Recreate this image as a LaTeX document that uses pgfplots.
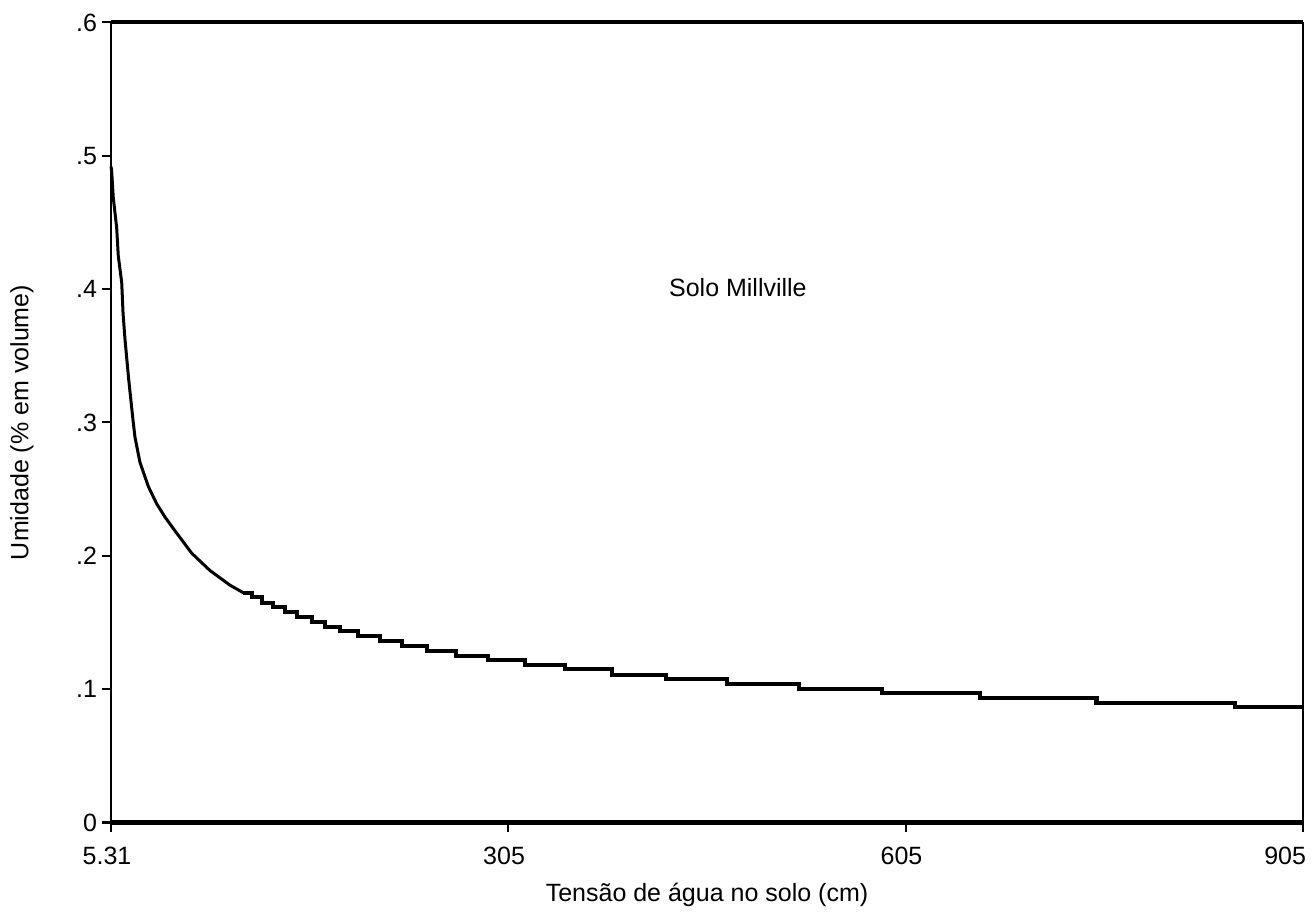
\documentclass[border=0pt]{standalone}
\usepackage{pgfplots}
\pgfplotsset{compat=1.18}
\usepackage{fontspec}
\setmainfont{Liberation Sans}
\begin{document}
\begin{tikzpicture}
\begin{axis}[
  scale only axis,
  width=596pt, height=400pt,
  xmin=5.31, xmax=905, ymin=0, ymax=0.6,
  separate axis lines,
  x axis line style={line width=2pt},
  y axis line style={line width=1.1pt},
  xtick={5.31,305,605,905},
  xticklabels={5.31,305,605,\makebox[7pt][r]{905}},
  ytick={0,0.1,0.2,0.3,0.4,0.5,0.6},
  yticklabels={0,.1,.2,.3,.4,.5,.6},
  tick align=outside,
  major tick length=4.5pt,
  tick style={line width=1pt, black},
  xtick pos=bottom, ytick pos=left,
  ticklabel style={font=\fontsize{12.5}{14}\selectfont},
  xticklabel style={yshift=-4pt, xshift=-2pt},
  yticklabel style={xshift=1pt},
  xlabel={Tensão de água no solo (cm)},
  ylabel={Umidade (\% em volume)},
  label style={font=\fontsize{12.5}{14}\selectfont},
  xlabel style={at={(axis description cs:0.5,-0.09)}, anchor=center},
  ylabel style={at={(axis description cs:-0.0747,0.5)}, anchor=center},
  clip=false,
]
\coordinate (sw) at (rel axis cs:0,0);
\coordinate (ne) at (rel axis cs:1,1);
% steep, smooth part
\addplot[black, line width=1.5pt] coordinates {
(5.31,0.492) (5.8,0.489) (7.0,0.469) (9.6,0.446) (10.8,0.425) (13.4,0.405)
(14.4,0.382) (15.9,0.362) (18.7,0.332) (21.9,0.302) (23.4,0.289) (27.2,0.270)
(33.5,0.252) (39.8,0.239) (46.1,0.229) (54.9,0.217) (66.2,0.202) (80.0,0.189)
(95.1,0.178) (105.2,0.1723)
};
% stepped part
\addplot[black, line width=2.1pt, const plot] coordinates {
(105.2,0.1723) (111.5,0.1689) (119.1,0.1649) (127.8,0.1618) (136.6,0.1576)
(145.5,0.1539) (156.8,0.1504) (166.8,0.1469) (178.1,0.1436) (192.0,0.1399)
(208.3,0.1363) (224.7,0.1326) (244.0,0.1288) (265.7,0.1251) (290.1,0.1219)
(317.8,0.1181) (347.9,0.1149) (383.2,0.1109) (424.2,0.1074) (470.0,0.1039)
(524.8,0.1004) (587.0,0.0969) (661.2,0.0931) (749.2,0.0894) (853.6,0.0864)
(905,0.0864)
};
\node[font=\fontsize{12.5}{14}\selectfont] at (axis cs:478.5,0.401) {Solo Millville};
\end{axis}
\path ([shift={(-55.5pt,-41.5pt)}]sw) rectangle ([shift={(5pt,11.25pt)}]ne);
\end{tikzpicture}
\end{document}
